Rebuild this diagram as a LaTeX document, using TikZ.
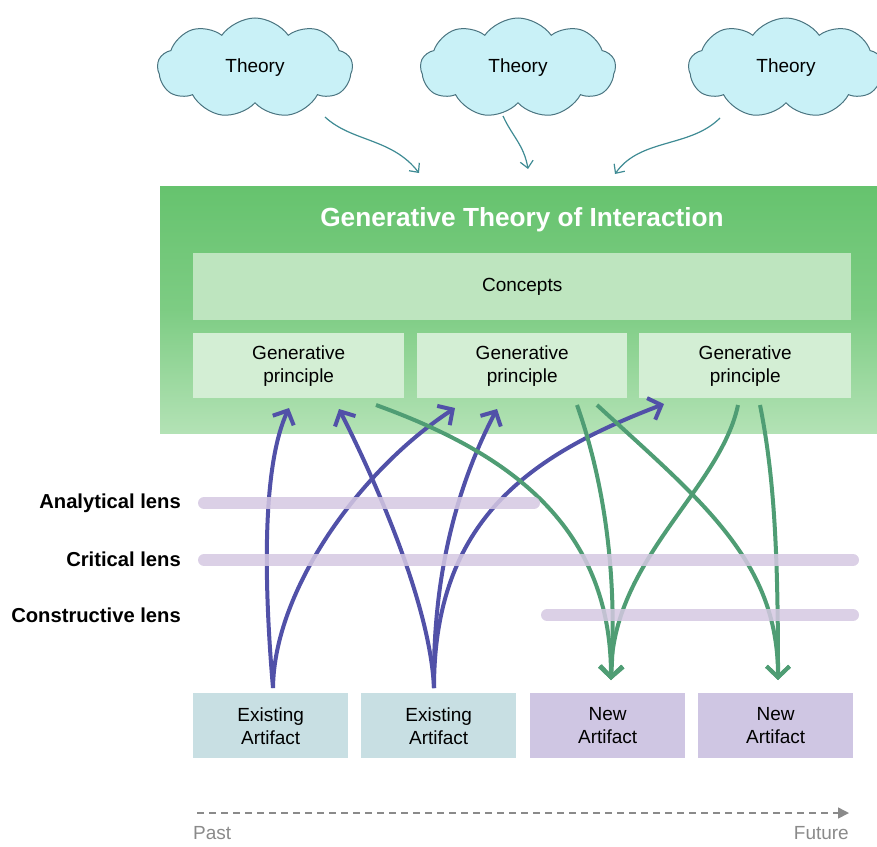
\documentclass[tikz,border=0pt]{standalone}
\usepackage{fontspec}
\setmainfont{Liberation Sans}
\usetikzlibrary{shapes.symbols,arrows.meta}
\definecolor{cloudfill}{HTML}{C9F1F7}
\definecolor{clouddraw}{HTML}{4A7480}
\definecolor{cloudarrow}{HTML}{3F8B94}
\definecolor{gtop}{HTML}{66C36E}
\definecolor{gbot}{HTML}{B3E2B5}
\definecolor{conceptc}{HTML}{BEE5BF}
\definecolor{gpc}{HTML}{D3EED4}
\definecolor{bluearr}{HTML}{5151A8}
\definecolor{greenarr}{HTML}{4F9D74}
\definecolor{lensc}{HTML}{D5C8E2}
\definecolor{existc}{HTML}{C8DFE3}
\definecolor{newc}{HTML}{CFC6E3}
\definecolor{axisc}{HTML}{8A8A8A}
\tikzset{
  theory/.style={cloud, cloud puffs=9, cloud puff arc=110, aspect=2.1, draw=clouddraw, fill=cloudfill, line width=1pt, minimum width=195pt, minimum height=100pt, inner sep=0pt, font=\fontsize{19}{22}\selectfont},
  carrow/.style={draw=cloudarrow, line width=1.2pt, -{Straight Barb[length=7pt,width=13pt]}},
  inbox/.style={anchor=north west, inner sep=0pt, font=\fontsize{19}{23}\selectfont, align=center},
  bluea/.style={draw=bluearr, line width=4pt, -{Straight Barb[length=11pt,width=23pt]}},
  greena/.style={draw=greenarr, line width=4pt, -{Straight Barb[length=11pt,width=23pt]}},
  lensbar/.style={draw=lensc, line width=12pt, line cap=round, opacity=0.85},
  lenslabel/.style={anchor=east, font=\fontsize{20.2}{22}\selectfont\bfseries, inner sep=0pt},
  artbox/.style={anchor=north west, inner sep=0pt, minimum width=155pt, minimum height=65pt, align=center, font=\fontsize{19}{23}\selectfont},
}
\begin{document}
\begin{tikzpicture}[x=1pt,y=-1pt]
\useasboundingbox (0,0) rectangle (877,846);
% clouds
\node[theory] (c1) at (255,68) {Theory};
\node[theory] (c2) at (518,68) {Theory};
\node[theory] (c3) at (786,68) {Theory};
% main green box
\shade[top color=gtop, bottom color=gbot, middle color=gtop!70!gbot] (160,186) rectangle (877,433);
\node[anchor=center, text=white, font=\fontsize{26.2}{28}\selectfont\bfseries] (gti) at (522,220) {Generative Theory of Interaction};
\node[inbox, fill=conceptc, minimum width=658pt, minimum height=67pt] (concepts) at (193,253) {Concepts};
\node[inbox, fill=gpc, minimum width=211pt, minimum height=65pt] (gp1) at (193,333) {Generative\\principle};
\node[inbox, fill=gpc, minimum width=210pt, minimum height=65pt] (gp2) at (417,333) {Generative\\principle};
\node[inbox, fill=gpc, minimum width=212pt, minimum height=65pt] (gp3) at (639,333) {Generative\\principle};
% cloud arrows
\coordinate (t1) at (419,173);
\coordinate (t2) at (528,169);
\coordinate (t3) at (615,174);
\draw[carrow] (325,117) .. controls (352,142) and (392,138) .. (t1);
\draw[carrow] (503,116) .. controls (512,136) and (524,145) .. (t2);
\draw[carrow] (720,118) .. controls (690,148) and (640,138) .. (t3);
% artifacts
\node[artbox, fill=existc] (ea1) at (193,693) {Existing\\Artifact};
\node[artbox, fill=existc] (ea2) at (361,693) {Existing\\Artifact};
\node[artbox, fill=newc] (na1) at (530,693) {New\\Artifact};
\node[artbox, fill=newc] (na2) at (698,693) {New\\Artifact};
% end coordinates
\coordinate (s1) at (273,688);
\coordinate (s2) at (434,688);
\coordinate (b1) at (289,408);
\coordinate (b2) at (455,408);
\coordinate (b3) at (339,409);
\coordinate (b4) at (497,409);
\coordinate (b5) at (664,404);
\coordinate (e1) at (611,680);
\coordinate (e2) at (778,680);
% blue arrows
\draw[bluea] (s1) .. controls (262,560) and (265,460) .. (b1);
\draw[bluea] (s1) .. controls (274,590) and (360,470) .. (b2);
\draw[bluea] (s2) .. controls (430,600) and (370,470) .. (b3);
\draw[bluea] (s2) .. controls (432,560) and (465,470) .. (b4);
\draw[bluea] (s2) .. controls (434,520) and (530,455) .. (b5);
% green arrows
\draw[greena] (376,405) .. controls (500,450) and (611,520) .. (e1);
\draw[greena] (577,405) .. controls (600,470) and (618,560) .. (e1);
\draw[greena] (738,405) .. controls (720,490) and (611,560) .. (e1);
\draw[greena] (597,405) .. controls (700,500) and (778,560) .. (e2);
\draw[greena] (760,405) .. controls (775,480) and (778,560) .. (e2);
% lens bars
\node[lenslabel] (al) at (181,503) {Analytical lens};
\node[lenslabel] (cl) at (181,559) {Critical lens};
\node[lenslabel] (ol) at (181,615) {Constructive lens};
\coordinate (a0) at (204,503); \coordinate (a1) at (534,503);
\coordinate (k0) at (204,560); \coordinate (k1) at (853,560);
\coordinate (o0) at (547,615); \coordinate (o1) at (853,615);
\draw[lensbar] (a0) -- (a1);
\draw[lensbar] (k0) -- (k1);
\draw[lensbar] (o0) -- (o1);
% time axis
\node[anchor=west, text=axisc, inner sep=0pt, font=\fontsize{19}{22}\selectfont] (past) at (193,833) {Past};
\node[anchor=east, text=axisc, inner sep=0pt, font=\fontsize{19}{22}\selectfont] (future) at (849,833) {Future};
\coordinate (x0) at (197,813);
\coordinate (x1) at (849,813);
\draw[axisc, line width=1.5pt, dash pattern=on 7pt off 5pt, -{Triangle[length=11pt,width=11pt]}] (x0) -- (x1);
\end{tikzpicture}
\end{document}
